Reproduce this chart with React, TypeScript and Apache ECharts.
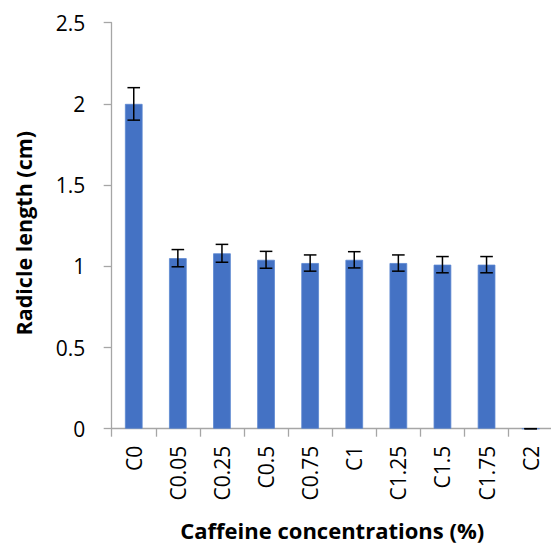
import React, { useEffect, useRef } from "react";
import * as echarts from "echarts";

const categories = ["C0", "C0.05", "C0.25", "C0.5", "C0.75", "C1", "C1.25", "C1.5", "C1.75", "C2"];
const values = [2.0, 1.05, 1.08, 1.04, 1.02, 1.04, 1.02, 1.01, 1.01, 0];
const errors = [0.1, 0.053, 0.055, 0.052, 0.05, 0.05, 0.05, 0.05, 0.05, 0];
const yTicks = [0, 0.5, 1, 1.5, 2, 2.5];

const FONT = "Open Sans";

export default function App() {
  const ref = useRef<HTMLDivElement>(null);
  useEffect(() => {
    if (!ref.current) return;
    const chart = echarts.init(ref.current, null, { renderer: "svg" });
    const errData = values.map((v, i) => [i, v - errors[i], v + errors[i]]);
    chart.setOption({
      animation: false,
      grid: { left: 111.7, top: 22.7, right: -1.7, bottom: 544 - 428.7, containLabel: false, outerBoundsMode: "none" },
      xAxis: {
        type: "category",
        data: categories,
        name: "Caffeine concentrations (%)",
        nameLocation: "middle",
        nameGap: 90,
        nameTextStyle: { fontFamily: FONT, fontSize: 22, fontWeight: "bold", color: "#000" },
        axisLine: { lineStyle: { color: "#a6a6a6", width: 1.3 } },
        axisTick: { show: true, length: 8, interval: 0, alignWithLabel: false, lineStyle: { color: "#a6a6a6", width: 1.3 } },
        axisLabel: { rotate: 90, interval: 0, margin: 17, fontFamily: FONT, fontSize: 21, color: "#000" },
      },
      yAxis: {
        type: "value",
        min: 0,
        max: 2.5,
        interval: 0.5,
        name: "Radicle length (cm)",
        nameLocation: "middle",
        nameGap: 77,
        nameTextStyle: { fontFamily: FONT, fontSize: 21.5, fontWeight: "bold", color: "#000", padding: [0, 15, 0, 0] },
        axisLine: { show: true, lineStyle: { color: "#a6a6a6", width: 1.3 } },
        axisTick: { show: true, length: 8, lineStyle: { color: "#a6a6a6", width: 1.3 } },
        splitLine: { show: false },
        axisLabel: {
          margin: 26.5,
          fontFamily: FONT,
          fontSize: 21,
          color: "#000",
          formatter: (v: number) => (yTicks.includes(v) ? String(v) : ""),
        },
      },
      series: [
        {
          type: "bar",
          data: values,
          barWidth: "40%",
          itemStyle: { color: "#4472C4", borderColor: "#5a86d0", borderWidth: 0.8 },
        },
        {
          type: "custom",
          data: errData,
          z: 10,
          renderItem: (params: any, api: any) => {
            const x = api.value(0);
            const lo = api.coord([x, api.value(1)]);
            const hi = api.coord([x, api.value(2)]);
            const hw = 6.3;
            const style = { stroke: "#000", lineWidth: 1.5 };
            return {
              type: "group",
              children: [
                { type: "line", shape: { x1: lo[0], y1: lo[1], x2: hi[0], y2: hi[1] }, style },
                { type: "line", shape: { x1: hi[0] - hw, y1: hi[1], x2: hi[0] + hw, y2: hi[1] }, style },
                { type: "line", shape: { x1: lo[0] - hw, y1: lo[1], x2: lo[0] + hw, y2: lo[1] }, style },
              ],
            };
          },
        },
      ],
    });
    return () => chart.dispose();
  }, []);
  return <div ref={ref} style={{ position: "absolute", left: 0, top: 0, width: 551, height: 544 }} />;
}
